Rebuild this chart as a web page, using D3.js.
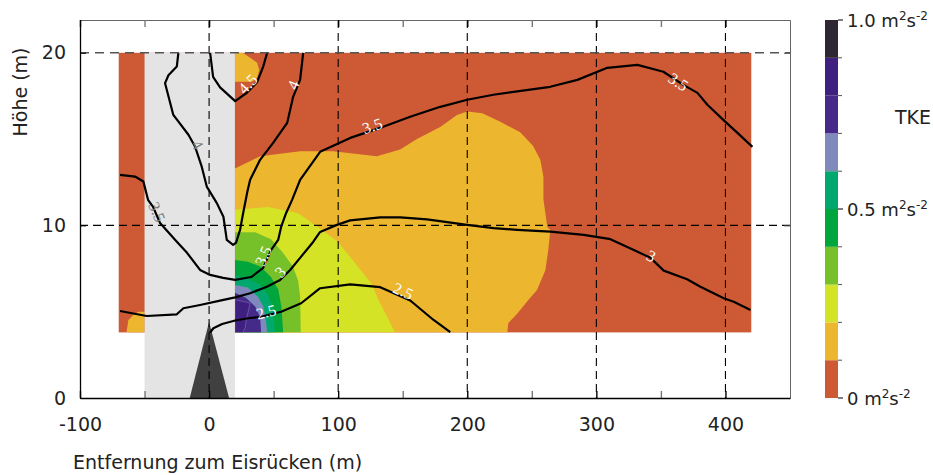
<!DOCTYPE html>
<html>
<head>
<meta charset="utf-8">
<script src="https://cdn.jsdelivr.net/npm/d3@7"></script>
<style>
  body { margin: 0; background: #fff; }
  svg { display: block; font-family: "DejaVu Sans", sans-serif; }
</style>
</head>
<body>
<svg id="chart" width="933" height="475"></svg>
<script>
// axis ticks
const xTicksMajor = [-100, 0, 100, 200, 300, 400];
const xTicksMinor = [-50, 50, 150, 250, 350];
const yTicks = [0, 10, 20];
const gridX = [0, 100, 200, 300, 400];
const gridY = [10, 20];

// TKE colour classes (m2 s-2)
const tkeLevels = [0, 0.1, 0.2, 0.3, 0.4, 0.5, 0.6, 0.7, 0.8, 0.9, 1.0];
const tkeColors = ["#cd5a35", "#ecb62e", "#d4e325", "#76c12a", "#00a53c",
                   "#00a86d", "#7f89bb", "#452a8a", "#3f2080", "#2e2632"];
const tkeTickLabels = ["0", "", "", "", "", "0.5", "", "", "", "", "1.0"];

// measured field, ice ridge band and ridge
const fieldX = [-70, 420];
const fieldY = [3.8, 20];
const bandX = [-50, 20];
const ridge = [[-15, 0], [0, 4.4], [15.5, 0]];

// TKE areas, each is the region above its level
const tke1Main = [[20,3.8],[20,13.3],[39.5,14.0],[70.5,14.3],[96,14.3],[130,14.0],[148,14.4],[161,15.0],
  [179,15.7],[192,16.4],[200,16.6],[211.6,16.5],[225.6,16.0],[241,15.4],[251,14.6],[256.6,13.8],
  [259,12.8],[259,11.5],[262,9.9],[264.3,9.74],[262.8,8.6],[260.5,7.4],[254,6.26],[246.5,5.6],
  [238.8,4.9],[231.8,4.35],[231,3.8]];
const tke1Top = [[20,20],[26,20],[31.8,19.71],[37.2,19.42],[38.8,19.01],[37.2,18.55],[33.3,18.32],[20,18.32]];
const tke1Left = [[-64,3.8],[-62.5,4.5],[-59,4.8],[-55,5.0],[-50,5.0],[-50,3.8]];
const tke2 = [[20,3.8],[20,10.9],[45.7,11.07],[69,10.7],[86,9.8],[99,9.1],[109,8.2],[119,7.25],
  [126,6.6],[131,5.7],[138,4.7],[144,3.8]];
const tke3 = [[20,3.8],[20,9.6],[35.7,9.6],[48,9.2],[57.4,8.4],[65,7.6],[69,6.8],[70.5,5.9],[71,3.8]];
const tke4 = [[20,3.8],[20,8.0],[30,7.9],[40,7.6],[48,7.0],[53.5,6.3],[56,5.3],[57.4,3.8]];
const tke5 = [[20,3.8],[20,7.1],[30,6.95],[39.5,6.55],[45.7,6.0],[49.6,5.1],[51,3.8]];
const tke6 = [[20,3.8],[20,6.55],[30,6.4],[38,5.85],[42,5.3],[44,4.5],[45,3.8]];
const tke7 = [[20,3.8],[20,6.1],[28.7,5.8],[35.7,5.3],[39.5,4.7],[40.3,3.8]];
const tke8 = [[20,3.8],[20,5.7],[31.8,5.5],[29,4.6],[28,4.1],[26.4,3.8]];

const tkeAreas = [
  { cls: 1, pts: tke1Main }, { cls: 1, pts: tke1Top }, { cls: 1, pts: tke1Left },
  { cls: 2, pts: tke2 }, { cls: 3, pts: tke3 }, { cls: 4, pts: tke4 },
  { cls: 5, pts: tke5 }, { cls: 6, pts: tke6 }, { cls: 7, pts: tke7 }, { cls: 8, pts: tke8 }
];

// wind speed isolines (m/s)
const wind45 = [[0.8,20],[3.1,18.6],[8.5,18.0],[20.2,17.2],[29.5,17.7],[37.2,18.3],[41.9,19.2],[45,20]];
const wind4 = [[-23.8,20],[-25.0,19.2],[-31.5,18.7],[-34.1,18.24],[-27.7,16.4],[-16.0,15.25],[-10.9,14.57],
  [-5.7,13.4],[-1.8,12.25],[6.0,11.29],[11.1,10.5],[13.7,9.16],[18.6,8.87],[20.9,9.0],[24.0,9.74],
  [26.4,10.72],[29.5,11.9],[31.8,12.64],[39.5,13.8],[49.6,14.78],[60.5,15.94],[65.1,17.45],[70.5,18.43],[72.9,20]];
const wind35 = [[-69,12.93],[-57.4,12.83],[-50.9,12.54],[-47.3,11.48],[-43.4,11.07],[-38.0,10.14],[-24.8,9.04],
  [-17.1,8.41],[-7.0,7.42],[0.8,7.13],[10.9,6.96],[20.2,6.84],[32.6,7.01],[41.9,7.54],[48.1,8.58],
  [53.5,9.16],[55.8,9.91],[59.7,10.72],[64.3,11.48],[70.5,12.64],[86,14.26],[109.3,15.07],[134.9,15.71],
  [155.8,16.29],[179.1,16.87],[200,17.28],[220.2,17.57],[264.3,18.03],[285.3,18.43],[308.5,19.13],
  [331.8,19.3],[351.9,18.9],[367.4,18.14],[378.3,17.68],[386,16.99],[400,16.0],[409.3,15.36],[420.9,14.55]];
const wind3 = [[-69,5.04],[-48.3,4.75],[-25.0,4.85],[-19.9,5.2],[-7.0,5.39],[8.5,5.64],[20.2,5.83],[31.8,6.07],
  [44.7,6.45],[55.0,6.84],[62.8,7.42],[70.5,8.12],[80.6,9.04],[86,9.62],[99,10.03],[109.3,10.29],
  [132.6,10.46],[148.1,10.47],[168.8,10.35],[181.6,10.22],[199.8,10.03],[220.4,9.84],[238.5,9.74],
  [264.3,9.64],[290.2,9.45],[310.9,9.2],[329,8.58],[341.9,8.12],[352.2,7.38],[370.3,6.88],[380.6,6.45],
  [398.7,5.78],[406.4,5.58],[419.4,5.1]];
const wind25 = [[0.8,3.79],[3.3,4.04],[10.1,4.29],[20.2,4.49],[30.2,4.62],[40.3,4.71],[55.8,5.0],[71.3,5.49],
  [86,6.36],[109.3,6.58],[132.6,6.42],[155.8,5.65],[173.9,4.52],[186.8,3.81]];

const windLines = [wind45, wind4, wind35, wind3, wind25];

// isoline labels: text, line, position of the label centre
const windLabels = [
  { text: "4.5", line: wind45, x: 29.8, y: 18.2, inBand: false },
  { text: "4", line: wind4, x: 65.1, y: 18.14, inBand: false },
  { text: "4", line: wind4, x: -8.9, y: 14.67, inBand: true },
  { text: "3.5", line: wind35, x: -40.3, y: 10.78, inBand: true },
  { text: "3.5", line: wind35, x: 41.9, y: 8.23, inBand: false },
  { text: "3", line: wind3, x: 55, y: 7.3, inBand: false },
  { text: "2.5", line: wind25, x: 44.2, y: 4.99, inBand: false },
  { text: "3.5", line: wind35, x: 126.4, y: 15.77, inBand: false },
  { text: "2.5", line: wind25, x: 150.4, y: 6.2, inBand: false },
  { text: "3", line: wind3, x: 342.6, y: 8.23, inBand: false },
  { text: "3.5", line: wind35, x: 363.6, y: 18.32, inBand: false }
];

const svg = d3.select("#chart");

const x = d3.scaleLinear().domain([-100, 450]).range([80, 790]);
const y = d3.scaleLinear().domain([0, 21.9]).range([398, 20]);
const cb = d3.scaleLinear().domain([0, 1]).range([398, 20]);

const line = d3.line().x(d => x(d[0])).y(d => y(d[1]));

svg.append("clipPath").attr("id", "field-clip")
  .append("rect")
  .attr("x", x(fieldX[0])).attr("y", y(fieldY[1]))
  .attr("width", x(fieldX[1]) - x(fieldX[0]))
  .attr("height", y(fieldY[0]) - y(fieldY[1]));

// base class fills the whole field
svg.append("rect")
  .attr("x", x(fieldX[0])).attr("y", y(fieldY[1]))
  .attr("width", x(fieldX[1]) - x(fieldX[0]))
  .attr("height", y(fieldY[0]) - y(fieldY[1]))
  .attr("fill", tkeColors[0]);

svg.append("g").attr("clip-path", "url(#field-clip)")
  .selectAll("path")
  .data(tkeAreas)
  .enter()
  .append("path")
  .attr("d", d => line(d.pts) + "Z")
  .attr("fill", d => tkeColors[d.cls])
  .attr("stroke", d => d.cls === 8 ? "rgba(160,150,210,0.5)" : "none")
  .attr("stroke-width", 0.8);

// ice ridge zone
svg.append("rect")
  .attr("x", x(bandX[0])).attr("y", y(20))
  .attr("width", x(bandX[1]) - x(bandX[0]))
  .attr("height", y(0) - y(20))
  .attr("fill", "#e4e4e4");

svg.append("path")
  .attr("d", line(ridge) + "Z")
  .attr("fill", "#404040");

// isolines
svg.append("g")
  .selectAll("path")
  .data(windLines)
  .enter()
  .append("path")
  .attr("d", d => line(d))
  .attr("fill", "none")
  .attr("stroke", "#000")
  .attr("stroke-width", 2.2)
  .attr("stroke-linejoin", "round");

function labelAngle(lab) {
  const px = x(lab.x), py = y(lab.y);
  let best = null, bestD = Infinity;
  for (let i = 0; i < lab.line.length - 1; i++) {
    const ax = x(lab.line[i][0]), ay = y(lab.line[i][1]);
    const bx = x(lab.line[i + 1][0]), by = y(lab.line[i + 1][1]);
    const dx = bx - ax, dy = by - ay;
    let t = ((px - ax) * dx + (py - ay) * dy) / (dx * dx + dy * dy);
    t = Math.max(0, Math.min(1, t));
    const qx = ax + t * dx - px, qy = ay + t * dy - py;
    const dist = qx * qx + qy * qy;
    if (dist < bestD) { bestD = dist; best = [dx, dy]; }
  }
  let a = Math.atan2(best[1], best[0]) * 180 / Math.PI;
  if (a > 90) a -= 180;
  if (a < -90) a += 180;
  return a;
}

svg.append("g")
  .selectAll("text")
  .data(windLabels)
  .enter()
  .append("text")
  .attr("transform", d => `translate(${x(d.x)},${y(d.y)}) rotate(${labelAngle(d)})`)
  .attr("text-anchor", "middle")
  .attr("dy", "0.35em")
  .attr("font-family", "Liberation Serif, serif")
  .attr("font-size", "16px")
  .attr("fill", d => d.inBand ? "#7a7a7a" : "#fff")
  .text(d => d.text);

// dashed grid
svg.append("g")
  .selectAll("line")
  .data(gridX)
  .enter()
  .append("line")
  .attr("x1", d => x(d)).attr("x2", d => x(d))
  .attr("y1", 20).attr("y2", 398)
  .attr("stroke", "#000")
  .attr("stroke-width", 1.1)
  .attr("stroke-dasharray", "8,5");

svg.append("g")
  .selectAll("line")
  .data(gridY)
  .enter()
  .append("line")
  .attr("x1", 80).attr("x2", 790)
  .attr("y1", d => y(d)).attr("y2", d => y(d))
  .attr("stroke", d => d === 20 ? "#555" : "#000")
  .attr("stroke-width", d => d === 20 ? 1.6 : 1.1)
  .attr("stroke-dasharray", d => d === 20 ? "9,6" : "8,5");

// axes
function styleAxis(g) {
  g.attr("font-family", "DejaVu Sans, sans-serif").attr("font-size", 19);
  g.selectAll("text").attr("fill", "#222");
}

svg.append("g")
  .attr("transform", "translate(0,20)")
  .call(d3.axisTop(x).tickValues(xTicksMajor.concat(xTicksMinor)).tickSizeInner(-7).tickSizeOuter(0).tickFormat(""))
  .call(g => g.select(".domain").attr("stroke", "#666"))
  .call(g => g.selectAll(".tick line").attr("stroke", d => d % 100 === 0 ? "#000" : "#777").attr("stroke-width", 1.4));

svg.append("g")
  .attr("transform", "translate(790,0)")
  .call(d3.axisRight(y).tickValues([10, 20]).tickSizeInner(-6).tickSizeOuter(0).tickFormat(""))
  .call(g => g.select(".domain").attr("stroke", "#666"))
  .call(g => g.selectAll(".tick line").attr("stroke", "#555"));

svg.append("g")
  .attr("transform", "translate(0,398)")
  .call(d3.axisBottom(x).tickValues(xTicksMinor).tickSizeInner(-7).tickSizeOuter(0).tickFormat(""))
  .call(g => g.select(".domain").remove())
  .call(g => g.selectAll(".tick line").attr("stroke", "#777").attr("stroke-width", 1.4));

svg.append("g")
  .attr("transform", "translate(0,398)")
  .call(d3.axisBottom(x).tickValues(xTicksMajor).tickSizeInner(-7).tickSizeOuter(0).tickPadding(20)
    .tickFormat(d => String(d)))
  .call(g => g.select(".domain").attr("stroke", "#000").attr("stroke-width", 1.3))
  .call(g => g.selectAll(".tick line").attr("stroke", "#000").attr("stroke-width", 1.4))
  .call(styleAxis);

svg.append("g")
  .attr("transform", "translate(80,0)")
  .call(d3.axisLeft(y).tickValues(yTicks).tickSizeInner(-6).tickSizeOuter(0).tickPadding(14)
    .tickFormat(d => String(d)))
  .call(g => g.select(".domain").attr("stroke", "#000").attr("stroke-width", 1.3))
  .call(g => g.selectAll(".tick line").attr("stroke", "#000"))
  .call(styleAxis);

svg.append("text")
  .attr("x", 73).attr("y", 469)
  .attr("font-size", 19).attr("fill", "#222")
  .text("Entfernung zum Eisrücken (m)");

svg.append("text")
  .attr("transform", "translate(27,92) rotate(-90)")
  .attr("text-anchor", "middle")
  .attr("font-size", 19).attr("fill", "#222")
  .text("Höhe (m)");

// colour bar
const bar = svg.append("g");
bar.selectAll("rect")
  .data(tkeColors)
  .enter()
  .append("rect")
  .attr("x", 825).attr("width", 13)
  .attr("y", (d, i) => cb(tkeLevels[i + 1]))
  .attr("height", (d, i) => cb(tkeLevels[i]) - cb(tkeLevels[i + 1]))
  .attr("fill", d => d);

bar.selectAll("line")
  .data(tkeLevels)
  .enter()
  .append("line")
  .attr("x1", 838).attr("x2", (d, i) => tkeTickLabels[i] ? 843 : 842)
  .attr("y1", d => cb(d)).attr("y2", d => cb(d))
  .attr("stroke", (d, i) => tkeTickLabels[i] ? "#000" : "#555")
  .attr("stroke-width", 1);

const barLabels = bar.selectAll("text.lab")
  .data(tkeLevels.map((v, i) => ({ v, t: tkeTickLabels[i] })).filter(d => d.t))
  .enter()
  .append("text")
  .attr("class", "lab")
  .attr("x", 847)
  .attr("y", d => cb(d.v) + 6.5)
  .attr("font-size", 18)
  .attr("fill", "#222");
barLabels.append("tspan").text(d => d.t + " m");
barLabels.append("tspan").attr("font-size", 12).attr("dy", -7).text("2");
barLabels.append("tspan").attr("dy", 7).text("s");
barLabels.append("tspan").attr("font-size", 12).attr("dy", -7).text("-2");

svg.append("text")
  .attr("x", 895).attr("y", 124)
  .attr("font-size", 19).attr("fill", "#222")
  .text("TKE");
</script>
</body>
</html>
